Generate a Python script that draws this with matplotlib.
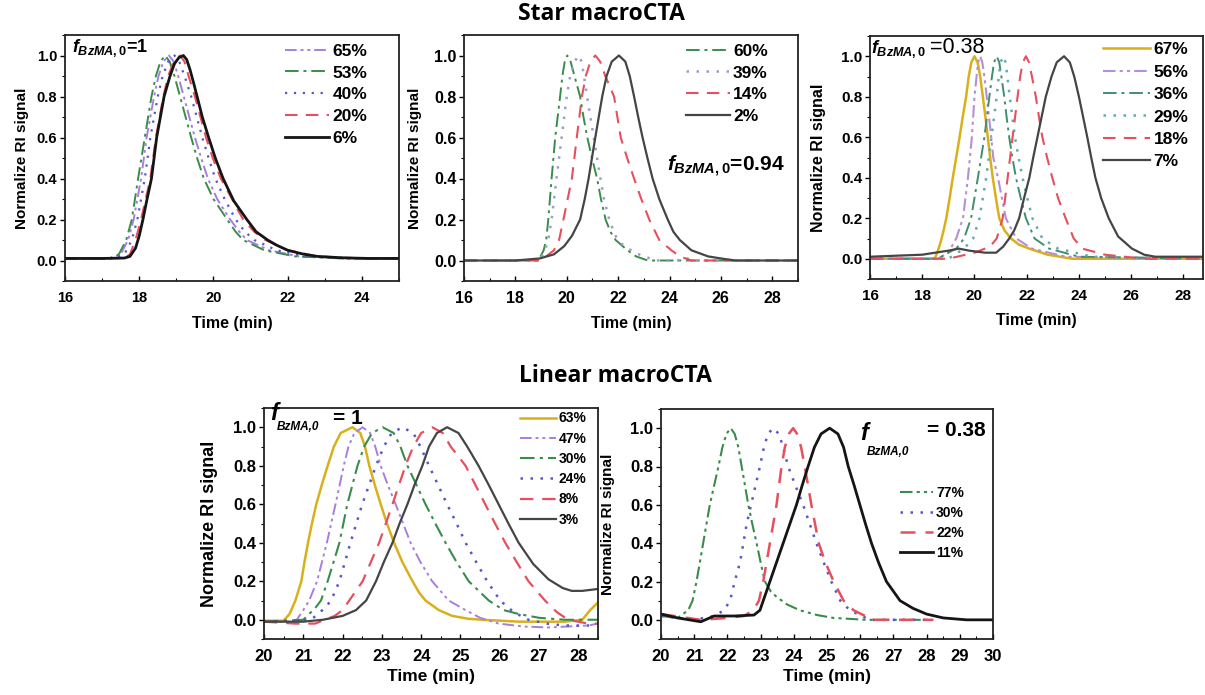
import matplotlib
matplotlib.use("Agg")
import matplotlib.pyplot as plt
from matplotlib.ticker import MultipleLocator, FormatStrFormatter, FuncFormatter

plt.rcParams["font.family"] = ["Liberation Sans", "DejaVu Sans"]
plt.rcParams["font.weight"] = "bold"
plt.rcParams["mathtext.fontset"] = "custom"
plt.rcParams["mathtext.it"] = "Liberation Sans:bold:italic"
plt.rcParams["mathtext.rm"] = "Liberation Sans:bold"
plt.rcParams["mathtext.bf"] = "Liberation Sans:bold"
plt.rcParams["lines.solid_joinstyle"] = "round"
plt.rcParams["lines.dash_joinstyle"] = "round"

# ---------------- data: star macroCTA, f = 1 ----------------
s1_labels = ["65%", "53%", "40%", "20%", "6%"]
s1_x65 = [16, 17.2, 17.5, 17.7, 17.85, 18.05, 18.2, 18.4, 18.52, 18.65, 18.8, 18.93, 19.05, 19.2, 19.35, 19.5, 19.67, 19.85, 20.1, 20.45, 20.7, 20.9, 21.5, 22.3, 23.5, 25]
s1_y65 = [0.01, 0.01, 0.03, 0.1, 0.2, 0.4, 0.6, 0.8, 0.9, 0.97, 1.0, 0.97, 0.9, 0.8, 0.7, 0.6, 0.5, 0.4, 0.3, 0.2, 0.14, 0.1, 0.05, 0.02, 0.01, 0.01]
s1_x53 = [16, 17.2, 17.45, 17.65, 17.8, 17.97, 18.15, 18.33, 18.45, 18.57, 18.7, 18.82, 18.95, 19.1, 19.25, 19.4, 19.56, 19.74, 20.0, 20.37, 20.6, 20.8, 21.37, 22.2, 23.5, 25]
s1_y53 = [0.01, 0.01, 0.03, 0.1, 0.2, 0.4, 0.6, 0.8, 0.9, 0.97, 1.0, 0.97, 0.9, 0.8, 0.7, 0.6, 0.5, 0.4, 0.3, 0.2, 0.14, 0.1, 0.05, 0.02, 0.01, 0.01]
s1_x40 = [16, 17.3, 17.6, 17.8, 17.95, 18.15, 18.3, 18.5, 18.63, 18.78, 18.95, 19.08, 19.22, 19.4, 19.55, 19.7, 19.87, 20.05, 20.3, 20.6, 20.85, 21.1, 21.7, 22.5, 24, 25]
s1_y40 = [0.01, 0.01, 0.03, 0.1, 0.2, 0.4, 0.6, 0.8, 0.9, 0.97, 1.0, 0.97, 0.9, 0.8, 0.7, 0.6, 0.5, 0.4, 0.3, 0.2, 0.14, 0.1, 0.05, 0.02, 0.01, 0.01]
s1_x20 = [16, 17.6, 17.75, 17.9, 18.05, 18.3, 18.45, 18.65, 18.78, 18.93, 19.1, 19.22, 19.33, 19.5, 19.65, 19.8, 19.98, 20.2, 20.5, 20.8, 21.1, 21.4, 22.0, 22.8, 24, 25]
s1_y20 = [0.01, 0.012, 0.03, 0.1, 0.2, 0.4, 0.6, 0.8, 0.9, 0.97, 1.0, 0.97, 0.9, 0.8, 0.7, 0.6, 0.5, 0.4, 0.3, 0.2, 0.14, 0.1, 0.05, 0.02, 0.01, 0.01]
s1_x6 = [16, 17.0, 17.6, 17.75, 17.9, 18.0, 18.1, 18.2, 18.33, 18.47, 18.57, 18.67, 18.83, 18.95, 19.07, 19.19, 19.28, 19.37, 19.46, 19.56, 19.7, 19.87, 20.05, 20.26, 20.55, 20.9, 21.15, 21.46, 21.7, 22.0, 22.4, 22.8, 23.5, 24.2, 25]
s1_y6 = [0.01, 0.01, 0.012, 0.02, 0.06, 0.12, 0.2, 0.29, 0.4, 0.6, 0.7, 0.8, 0.9, 0.96, 0.99, 1.0, 0.98, 0.93, 0.87, 0.8, 0.7, 0.6, 0.5, 0.4, 0.29, 0.2, 0.14, 0.1, 0.075, 0.05, 0.032, 0.02, 0.013, 0.01, 0.01]

# ---------------- data: star macroCTA, f = 0.94 ----------------
s2_labels = ["60%", "39%", "14%", "2%"]
s2_x60 = [16, 18.9, 19.1, 19.2, 19.28, 19.41, 19.55, 19.74, 19.83, 19.92, 20.02, 20.15, 20.3, 20.52, 20.65, 20.8, 20.98, 21.18, 21.33, 21.51, 21.7, 21.9, 22.36, 22.7, 23.15, 29]
s2_y60 = [0, 0, 0.05, 0.1, 0.2, 0.4, 0.6, 0.8, 0.9, 0.97, 1.0, 0.97, 0.9, 0.8, 0.7, 0.6, 0.5, 0.4, 0.3, 0.2, 0.14, 0.1, 0.05, 0.02, 0.0, 0]
s2_x39 = [16, 18.95, 19.15, 19.28, 19.41, 19.6, 19.8, 20.0, 20.13, 20.3, 20.46, 20.58, 20.67, 20.79, 20.92, 21.05, 21.18, 21.31, 21.45, 21.65, 21.9, 22.15, 22.62, 23.0, 23.5, 24.3, 24.6, 25.0, 29]
s2_y39 = [0, 0, 0.05, 0.1, 0.2, 0.4, 0.6, 0.8, 0.9, 0.97, 1.0, 0.97, 0.9, 0.8, 0.7, 0.6, 0.5, 0.4, 0.3, 0.2, 0.12, 0.08, 0.04, 0.02, 0.0, 0.0, 0.012, 0.0, 0]
s2_x14 = [16, 19.0, 19.5, 19.7, 19.87, 20.2, 20.39, 20.59, 20.74, 20.92, 21.11, 21.3, 21.5, 21.84, 21.97, 22.1, 22.35, 22.62, 22.9, 23.21, 23.6, 24.07, 24.4, 24.85, 29]
s2_y14 = [0, 0, 0.05, 0.1, 0.2, 0.4, 0.6, 0.8, 0.9, 0.97, 1.0, 0.97, 0.9, 0.8, 0.7, 0.6, 0.5, 0.4, 0.3, 0.2, 0.1, 0.05, 0.02, 0.0, 0]
s2_x2 = [16, 18, 18.95, 19.5, 19.9, 20.2, 20.52, 20.7, 20.85, 21.11, 21.38, 21.55, 21.75, 22.03, 22.28, 22.45, 22.62, 22.78, 22.95, 23.14, 23.34, 23.6, 23.93, 24.15, 24.4, 24.85, 25.5, 26.0, 26.56, 29]
s2_y2 = [0, 0, 0.01, 0.03, 0.07, 0.12, 0.2, 0.3, 0.4, 0.6, 0.8, 0.9, 0.97, 1.0, 0.97, 0.9, 0.8, 0.7, 0.6, 0.5, 0.4, 0.3, 0.2, 0.14, 0.1, 0.05, 0.02, 0.01, 0.0, 0.0]

# ---------------- data: star macroCTA, f = 0.38 ----------------
s3_labels = ["67%", "56%", "36%", "29%", "18%", "7%"]
s3_x67 = [16, 18.48, 18.6, 18.7, 18.8, 18.92, 19.05, 19.17, 19.3, 19.43, 19.55, 19.68, 19.78, 19.88, 20.0, 20.12, 20.22, 20.32, 20.42, 20.51, 20.6, 20.7, 20.82, 20.95, 21.15, 21.4, 21.7, 22.1, 22.8, 23.75, 29]
s3_y67 = [0.0, 0.0, 0.04, 0.08, 0.13, 0.2, 0.3, 0.4, 0.5, 0.6, 0.7, 0.8, 0.9, 0.97, 1.0, 0.97, 0.9, 0.8, 0.7, 0.6, 0.5, 0.4, 0.3, 0.2, 0.14, 0.1, 0.07, 0.05, 0.02, 0.0, 0.0]
s3_x56 = [16, 18.6, 19.0, 19.3, 19.56, 19.75, 19.9, 20.0, 20.08, 20.14, 20.22, 20.3, 20.38, 20.47, 20.6, 20.72, 20.9, 21.05, 21.2, 21.6, 22.2, 23.5, 29]
s3_y56 = [0, 0, 0.03, 0.1, 0.2, 0.4, 0.6, 0.8, 0.9, 0.97, 1.0, 0.97, 0.9, 0.8, 0.65, 0.5, 0.4, 0.3, 0.2, 0.1, 0.05, 0.01, 0]
s3_x36 = [16, 18.6, 19.0, 19.3, 19.6, 19.87, 20.13, 20.38, 20.57, 20.67, 20.75, 20.85, 20.95, 21.03, 21.14, 21.23, 21.33, 21.45, 21.59, 21.77, 21.97, 22.3, 22.86, 24.0, 29]
s3_y36 = [0, 0, 0.03, 0.05, 0.1, 0.2, 0.4, 0.6, 0.8, 0.9, 0.97, 1.0, 0.97, 0.9, 0.8, 0.7, 0.6, 0.5, 0.4, 0.3, 0.2, 0.1, 0.05, 0.01, 0]
s3_x29 = [16, 19.0, 19.6, 19.95, 20.19, 20.45, 20.65, 20.85, 20.93, 21.0, 21.1, 21.19, 21.26, 21.35, 21.45, 21.55, 21.69, 21.84, 22.02, 22.22, 22.6, 23.2, 24.5, 29]
s3_y29 = [0, 0, 0.05, 0.1, 0.2, 0.4, 0.6, 0.8, 0.9, 0.97, 1.0, 0.97, 0.9, 0.8, 0.7, 0.6, 0.5, 0.4, 0.3, 0.2, 0.1, 0.05, 0.01, 0]
s3_x18 = [16, 19.0, 20.0, 20.6, 20.85, 21.08, 21.27, 21.46, 21.65, 21.75, 21.85, 21.97, 22.09, 22.2, 22.35, 22.47, 22.6, 22.78, 22.98, 23.2, 23.49, 23.8, 24.13, 25.0, 26.5, 29]
s3_y18 = [0, 0, 0.03, 0.06, 0.1, 0.2, 0.4, 0.6, 0.8, 0.9, 0.97, 1.0, 0.97, 0.9, 0.8, 0.7, 0.6, 0.5, 0.4, 0.3, 0.2, 0.1, 0.05, 0.02, 0.0, 0.0]
s3_x7 = [16, 18.0, 19.0, 19.4, 19.8, 20.4, 20.83, 21.1, 21.33, 21.52, 21.71, 21.9, 22.1, 22.25, 22.41, 22.57, 22.73, 22.95, 23.15, 23.43, 23.65, 23.82, 24.0, 24.16, 24.32, 24.47, 24.63, 24.85, 25.14, 25.5, 26.03, 26.5, 26.92, 29]
s3_y7 = [0.01, 0.02, 0.04, 0.05, 0.04, 0.03, 0.03, 0.06, 0.1, 0.14, 0.2, 0.3, 0.4, 0.5, 0.6, 0.7, 0.8, 0.9, 0.97, 1.0, 0.97, 0.9, 0.8, 0.7, 0.6, 0.5, 0.4, 0.3, 0.2, 0.11, 0.05, 0.02, 0.01, 0.01]

# ---------------- data: linear macroCTA, f = 1 ----------------
l1_labels = ["63%", "47%", "30%", "24%", "8%", "3%"]
l1_x63 = [20, 20.5, 20.65, 20.8, 20.95, 21.03, 21.12, 21.22, 21.33, 21.47, 21.62, 21.78, 21.95, 22.25, 22.45, 22.57, 22.68, 22.82, 22.97, 23.13, 23.31, 23.52, 23.78, 23.95, 24.11, 24.45, 24.79, 25.2, 25.55, 26.5, 27.66, 28.1, 28.3, 28.5]
l1_y63 = [-0.005, -0.005, 0.03, 0.1, 0.2, 0.3, 0.4, 0.5, 0.6, 0.7, 0.8, 0.9, 0.97, 1.0, 0.97, 0.9, 0.8, 0.7, 0.6, 0.5, 0.4, 0.3, 0.2, 0.14, 0.1, 0.05, 0.02, 0.005, 0.0, -0.01, -0.01, 0.0, 0.05, 0.09]
l1_x47 = [20, 20.8, 21.0, 21.15, 21.35, 21.6, 21.82, 22.03, 22.15, 22.3, 22.51, 22.7, 22.83, 22.97, 23.15, 23.35, 23.54, 23.73, 23.98, 24.28, 24.7, 25.13, 25.5, 25.97, 26.6, 27.24, 28.25, 28.5]
l1_y47 = [-0.01, -0.01, 0.05, 0.1, 0.2, 0.4, 0.6, 0.8, 0.9, 0.97, 1.0, 0.97, 0.9, 0.8, 0.7, 0.6, 0.5, 0.4, 0.3, 0.2, 0.1, 0.05, 0.01, -0.02, -0.035, -0.04, -0.03, -0.02]
l1_x30 = [20, 21.0, 21.3, 21.45, 21.62, 21.92, 22.12, 22.38, 22.55, 22.75, 23.02, 23.3, 23.47, 23.65, 23.88, 24.11, 24.36, 24.62, 24.9, 25.21, 25.72, 26.1, 26.48, 27.0, 27.66, 28.5]
l1_y30 = [-0.01, 0.0, 0.06, 0.1, 0.2, 0.4, 0.6, 0.8, 0.9, 0.97, 1.0, 0.97, 0.9, 0.8, 0.7, 0.6, 0.5, 0.4, 0.3, 0.2, 0.1, 0.05, 0.03, 0.01, 0.0, 0.0]
l1_x24 = [20, 21.2, 21.6, 21.75, 21.92, 22.2, 22.5, 22.85, 23.05, 23.25, 23.52, 23.8, 23.98, 24.2, 24.43, 24.66, 24.9, 25.13, 25.4, 25.68, 26.01, 26.35, 26.73, 27.2, 27.66, 28.3]
l1_y24 = [-0.01, 0.0, 0.07, 0.12, 0.2, 0.4, 0.6, 0.8, 0.9, 0.97, 1.0, 0.97, 0.9, 0.8, 0.7, 0.6, 0.5, 0.4, 0.3, 0.2, 0.1, 0.04, 0.0, -0.02, -0.03, -0.03]
l1_x8 = [20, 20.8, 21.3, 21.8, 22.0, 22.17, 22.51, 22.93, 23.27, 23.6, 23.8, 24.0, 24.28, 24.55, 24.75, 25.13, 25.38, 25.63, 25.88, 26.14, 26.43, 26.73, 27.15, 27.45, 27.74, 28.25, 28.5]
l1_y8 = [-0.01, -0.02, -0.02, 0.02, 0.05, 0.1, 0.2, 0.4, 0.6, 0.8, 0.9, 0.97, 1.0, 0.97, 0.9, 0.8, 0.7, 0.6, 0.5, 0.4, 0.3, 0.2, 0.1, 0.04, 0.0, -0.02, -0.02]
l1_x3 = [20, 21.0, 21.5, 22.0, 22.34, 22.6, 22.85, 23.05, 23.27, 23.45, 23.65, 23.83, 24.03, 24.2, 24.4, 24.66, 24.95, 25.17, 25.46, 25.72, 25.97, 26.22, 26.48, 26.85, 27.24, 27.6, 27.83, 28.1, 28.5]
l1_y3 = [-0.01, -0.01, 0.0, 0.02, 0.05, 0.1, 0.2, 0.3, 0.4, 0.5, 0.6, 0.7, 0.8, 0.9, 0.97, 1.0, 0.97, 0.9, 0.8, 0.7, 0.6, 0.5, 0.4, 0.29, 0.21, 0.165, 0.15, 0.15, 0.16]

# ---------------- data: linear macroCTA, f = 0.38 ----------------
l2_labels = ["77%", "30%", "22%", "11%"]
l2_x77 = [20, 20.5, 20.82, 20.95, 21.07, 21.27, 21.47, 21.73, 21.85, 21.97, 22.1, 22.22, 22.33, 22.43, 22.53, 22.63, 22.75, 22.88, 23.0, 23.13, 23.3, 23.48, 23.8, 24.18, 24.7, 25.19, 26.19, 28.2]
l2_y77 = [0.02, 0.01, 0.05, 0.1, 0.2, 0.4, 0.6, 0.8, 0.9, 0.97, 1.0, 0.97, 0.9, 0.8, 0.7, 0.6, 0.5, 0.4, 0.3, 0.2, 0.15, 0.12, 0.08, 0.05, 0.025, 0.01, 0.0, 0.0]
l2_x30 = [20, 21.0, 21.6, 21.9, 22.08, 22.22, 22.38, 22.58, 22.78, 22.98, 23.1, 23.22, 23.38, 23.55, 23.68, 23.83, 24.05, 24.28, 24.48, 24.68, 24.9, 25.13, 25.4, 25.69, 26.29, 28.0]
l2_y30 = [0.02, 0.0, 0.02, 0.05, 0.1, 0.2, 0.3, 0.5, 0.65, 0.8, 0.9, 0.97, 1.0, 0.97, 0.9, 0.8, 0.7, 0.6, 0.5, 0.4, 0.3, 0.2, 0.1, 0.05, 0.0, 0.0]
l2_x22 = [20, 21.2, 22.0, 22.5, 22.78, 22.95, 23.08, 23.28, 23.48, 23.63, 23.73, 23.85, 23.98, 24.1, 24.22, 24.33, 24.43, 24.53, 24.64, 24.75, 24.95, 25.2, 25.5, 25.8, 26.39, 28.2]
l2_y22 = [0.03, 0.0, 0.01, 0.02, 0.05, 0.1, 0.2, 0.4, 0.6, 0.8, 0.9, 0.97, 1.0, 0.97, 0.9, 0.8, 0.7, 0.6, 0.5, 0.4, 0.3, 0.2, 0.1, 0.05, 0.0, 0.0]
l2_x11 = [20, 20.5, 21.2, 21.6, 22.2, 22.8, 22.98, 23.12, 23.28, 23.48, 23.68, 23.88, 24.08, 24.25, 24.43, 24.62, 24.82, 25.08, 25.33, 25.5, 25.64, 25.82, 25.99, 26.16, 26.34, 26.55, 26.79, 27.2, 27.59, 28.0, 28.5, 29.2, 30]
l2_y11 = [0.03, 0.01, -0.01, 0.02, 0.02, 0.025, 0.05, 0.12, 0.2, 0.3, 0.4, 0.5, 0.6, 0.7, 0.8, 0.9, 0.97, 1.0, 0.97, 0.9, 0.8, 0.7, 0.6, 0.5, 0.4, 0.3, 0.2, 0.1, 0.06, 0.03, 0.01, 0.0, 0.0]

# ---------------- styles ----------------
DDOT = (0, (6, 2, 1.5, 2, 1.5, 2))
DDASH = (0, (7, 2.5, 1.5, 2.5))
DOT = (0, (1, 3))
DASH = (0, (6, 4))
RED = "#e5505c"
GREEN = "#3a8c4a"
BLUE = "#5656cc"
PURPLE = "#a57fe0"
GOLD = "#d8b01c"
DARK = "#454545"
BLACK = "#151515"

fig = plt.figure(figsize=(12.05, 6.95), dpi=100)
W, H = 1205, 695


def make_axes(left, top, right, bottom):
    ax = fig.add_axes([left / W, 1 - bottom / H, (right - left) / W, (bottom - top) / H])
    ax._px = (right - left, bottom - top)
    return ax


def style_axes(ax, xlim, xmajor, tick_fs, ylab_fs, ylab_off, xlab_fs, xlab_off):
    ax.set_xlim(*xlim)
    ax.set_ylim(-0.1, 1.1)
    ax.xaxis.set_major_locator(MultipleLocator(xmajor))
    ax.xaxis.set_minor_locator(MultipleLocator(xmajor / 2))
    ax.yaxis.set_major_locator(MultipleLocator(0.2))
    ax.yaxis.set_minor_locator(MultipleLocator(0.1))
    ax.tick_params(axis="x", which="both", direction="in", labelsize=tick_fs, pad=7)
    ax.tick_params(axis="y", which="both", direction="out", labelsize=tick_fs, pad=2)
    ax.tick_params(which="major", length=3.5, width=1)
    ax.tick_params(which="minor", length=2, width=0.8)
    ax.xaxis.set_major_formatter(FuncFormatter(lambda v, p: f"{v:g}"))
    ax.yaxis.set_major_formatter(FormatStrFormatter("%.1f"))
    for s in ax.spines.values():
        s.set_linewidth(1.3)
        s.set_color("#222222")
    wpx, hpx = ax._px
    ax.set_xlabel("Time (min)", fontsize=xlab_fs, fontweight="bold", va="center")
    ax.xaxis.set_label_coords(0.5, -xlab_off / hpx)
    ax.set_ylabel("Normalize RI signal", fontsize=ylab_fs, fontweight="bold", va="center")
    ax.yaxis.set_label_coords(-ylab_off / wpx, 0.5)


def add_legend(ax, x0, y0, fs, spacing, hlen):
    ax.legend(loc="upper left", bbox_to_anchor=(x0, y0), frameon=False,
              borderpad=0, borderaxespad=0, handlelength=hlen, handletextpad=0.2,
              labelspacing=spacing, prop={"weight": "bold", "size": fs})


# ---- panel: star, f=1 ----
ax1 = make_axes(65, 35, 399, 281)
ax1.plot(s1_x65, s1_y65, color=PURPLE, ls=DDOT, lw=1.4, label=s1_labels[0])
ax1.plot(s1_x53, s1_y53, color=GREEN, ls=DDASH, lw=1.4, label=s1_labels[1])
ax1.plot(s1_x40, s1_y40, color=BLUE, ls=DOT, lw=1.6, label=s1_labels[2])
ax1.plot(s1_x20, s1_y20, color=RED, ls=DASH, lw=1.5, label=s1_labels[3])
ax1.plot(s1_x6, s1_y6, color=BLACK, ls="-", lw=2.0, label=s1_labels[4])
style_axes(ax1, (16, 25), 2, 10.5, 11, 43, 11.5, 42)
add_legend(ax1, 0.66, 0.965, 12.5, 0.38, 2.5)
ax1.text(16.2, 1.035, r"$f_{BzMA,0}$=1", fontsize=13, fontweight="bold", va="center")

# ---- panel: star, f=0.94 ----
ax2 = make_axes(464, 35, 798, 281)
ax2.plot(s2_x60, s2_y60, color=GREEN, ls=DDASH, lw=1.4, label=s2_labels[0])
ax2.plot(s2_x39, s2_y39, color="#9aa0c8", ls=DOT, lw=1.8, label=s2_labels[1])
ax2.plot(s2_x14, s2_y14, color=RED, ls=DASH, lw=1.5, label=s2_labels[2])
ax2.plot(s2_x2, s2_y2, color=DARK, ls="-", lw=1.6, label=s2_labels[3])
style_axes(ax2, (16, 29), 2, 11.5, 11, 49, 11.5, 42)
add_legend(ax2, 0.665, 0.965, 12.5, 0.38, 2.5)
ax2.text(23.9, 0.46, r"$f_{BzMA,0}$=0.94", fontsize=15, fontweight="bold", va="center")

# ---- panel: star, f=0.38 ----
ax3 = make_axes(870, 36, 1203, 279)
ax3.plot(s3_x67, s3_y67, color=GOLD, ls="-", lw=1.8, label=s3_labels[0])
ax3.plot(s3_x56, s3_y56, color="#b58fd6", ls=DDOT, lw=1.5, label=s3_labels[1])
ax3.plot(s3_x36, s3_y36, color="#3f8f6e", ls=DDASH, lw=1.4, label=s3_labels[2])
ax3.plot(s3_x29, s3_y29, color="#62aab0", ls=DOT, lw=1.8, label=s3_labels[3])
ax3.plot(s3_x18, s3_y18, color=RED, ls=DASH, lw=1.5, label=s3_labels[4])
ax3.plot(s3_x7, s3_y7, color=DARK, ls="-", lw=1.6, label=s3_labels[5])
style_axes(ax3, (16, 28.75), 2, 11, 11.5, 52, 11.5, 42)
add_legend(ax3, 0.70, 0.975, 12.5, 0.42, 2.7)
ax3.text(16.05, 1.035, r"$f_{BzMA,0}$", fontsize=13, fontweight="bold", va="center")
ax3.text(18.3, 1.045, "=0.38", fontsize=15.5, fontweight="normal", va="center")

# ---- panel: linear, f=1 ----
ax4 = make_axes(264, 408, 598, 639)
ax4.plot(l1_x63, l1_y63, color=GOLD, ls="-", lw=1.8, label=l1_labels[0])
ax4.plot(l1_x47, l1_y47, color=PURPLE, ls=DDOT, lw=1.4, label=l1_labels[1])
ax4.plot(l1_x30, l1_y30, color=GREEN, ls=DDASH, lw=1.5, label=l1_labels[2])
ax4.plot(l1_x24, l1_y24, color=BLUE, ls=DOT, lw=1.8, label=l1_labels[3])
ax4.plot(l1_x8, l1_y8, color=RED, ls=DASH, lw=1.6, label=l1_labels[4])
ax4.plot(l1_x3, l1_y3, color=DARK, ls="-", lw=1.6, label=l1_labels[5])
style_axes(ax4, (20, 28.5), 1, 12, 13, 54, 12.5, 38)
add_legend(ax4, 0.765, 0.985, 10, 0.45, 2.6)
ax4.text(20.15, 1.07, "f", fontsize=17, fontweight="bold", fontstyle="italic", va="center")
ax4.text(20.32, 1.0, "BzMA,0", fontsize=8.5, fontweight="bold", fontstyle="italic", va="center")
ax4.text(21.75, 1.045, "= 1", fontsize=15, fontweight="bold", va="center")

# ---- panel: linear, f=0.38 ----
ax5 = make_axes(661, 409, 993, 639)
ax5.plot(l2_x77, l2_y77, color=GREEN, ls=DDOT, lw=1.5, label=l2_labels[0])
ax5.plot(l2_x30, l2_y30, color=BLUE, ls=DOT, lw=1.8, label=l2_labels[1])
ax5.plot(l2_x22, l2_y22, color=RED, ls=DASH, lw=1.8, label=l2_labels[2])
ax5.plot(l2_x11, l2_y11, color=BLACK, ls="-", lw=2.0, label=l2_labels[3])
style_axes(ax5, (20, 30), 1, 12, 11, 53, 12.5, 38)
add_legend(ax5, 0.72, 0.665, 10, 0.42, 2.4)
ax5.text(26.0, 0.97, "f", fontsize=17, fontweight="bold", fontstyle="italic", va="center")
ax5.text(26.2, 0.875, "BzMA,0", fontsize=8.5, fontweight="bold", fontstyle="italic", va="center")
ax5.text(28.0, 0.99, "= 0.38", fontsize=15, fontweight="bold", va="center")

# group headings
fig.text(601 / W, 1 - 14 / H, "Star macroCTA", ha="center", va="center",
         fontsize=16.5, fontweight="bold", family=["Open Sans", "DejaVu Sans"])
fig.text(615 / W, 1 - 376 / H, "Linear macroCTA", ha="center", va="center",
         fontsize=16.5, fontweight="bold", family=["Open Sans", "DejaVu Sans"])

fig.savefig("out.png", dpi=100)
